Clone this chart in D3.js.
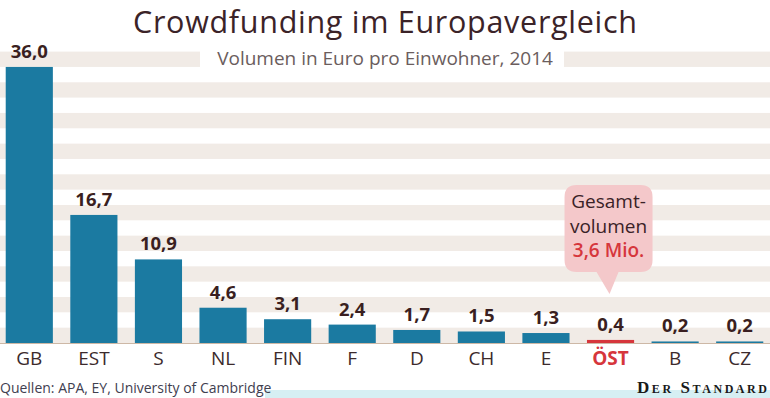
<!doctype html>
<html>
<head>
<meta charset="utf-8">
<style>
    body { margin: 0; background: #fff; }
    svg { display: block; font-family: "Open Sans", "Noto Sans", sans-serif; }
</style>
<script src="https://d3js.org/d3.v7.min.js"></script>
</head>
<body>
<svg width="770" height="398"></svg>
<script>
// data
var countries = ["GB", "EST", "S", "NL", "FIN", "F", "D", "CH", "E", "ÖST", "B", "CZ"];
var volumes = [36.0, 16.7, 10.9, 4.6, 3.1, 2.4, 1.7, 1.5, 1.3, 0.4, 0.2, 0.2];
var stripeStarts = [0, 4, 8, 12, 16, 20, 24, 28, 32, 36];
var stripeWidth = 2;
var highlight = "ÖST";

var svg = d3.select("svg"),
    baseline = 343;

var x = d3.scaleBand().domain(countries).range([-3, 772]).paddingInner(0.27).paddingOuter(0.135);
var y = d3.scaleLinear().domain([0, 38]).range([baseline, 51.6]);

var fmt = function(v) { return d3.format(".1f")(v).replace(".", ","); };

// stripes
svg.append("g").selectAll("rect")
    .data(stripeStarts)
    .enter().append("rect")
    .attr("x", 0)
    .attr("width", 770)
    .attr("y", function(d) { return y(d + stripeWidth); })
    .attr("height", function(d) { return y(d) - y(d + stripeWidth); })
    .attr("fill", "#f1ebe6");

// title
svg.append("text")
    .attr("x", 385).attr("y", 32.5)
    .attr("text-anchor", "middle")
    .attr("font-size", 30.5)
    .attr("textLength", 504)
    .attr("fill", "#3b2328")
    .text("Crowdfunding im Europavergleich");

svg.append("rect")
    .attr("x", 200).attr("y", 46).attr("width", 364).attr("height", 24)
    .attr("fill", "#fff");

svg.append("text")
    .attr("x", 385).attr("y", 65)
    .attr("text-anchor", "middle")
    .attr("font-size", 19)
    .attr("fill", "#6b5d5d")
    .text("Volumen in Euro pro Einwohner, 2014");

// baseline
svg.append("line")
    .attr("x1", 0).attr("x2", 770)
    .attr("y1", baseline + 0.5).attr("y2", baseline + 0.5)
    .attr("stroke", "#cdb8a6");

var data = countries.map(function(c, i) { return { c: c, v: volumes[i] }; });

var g = svg.append("g");

g.selectAll(".bar")
    .data(data)
    .enter().append("rect")
    .attr("class", "bar")
    .attr("x", function(d) { return x(d.c); })
    .attr("y", function(d) { return y(d.v); })
    .attr("width", x.bandwidth())
    .attr("height", function(d) { return baseline - y(d.v); })
    .attr("fill", function(d) { return d.c === highlight ? "#d6363c" : "#1b7aa1"; });

g.selectAll(".val")
    .data(data)
    .enter().append("text")
    .attr("class", "val")
    .attr("x", function(d) { return x(d.c) + x.bandwidth() / 2; })
    .attr("y", function(d) { return y(d.v) - 9; })
    .attr("text-anchor", "middle")
    .attr("font-size", 18.5)
    .attr("font-weight", "bold")
    .attr("fill", "#3a1f21")
    .text(function(d) { return fmt(d.v); });

svg.append("g")
    .attr("transform", "translate(0," + baseline + ")")
    .call(d3.axisBottom(x).tickSize(0).tickPadding(9))
    .call(function(a) {
        a.select(".domain").remove();
        a.selectAll("text")
            .attr("font-size", 19)
            .attr("font-family", "'Open Sans', sans-serif")
            .attr("fill", function(d) { return d === highlight ? "#d6363c" : "#3b2a2c"; })
            .attr("font-weight", function(d) { return d === highlight ? "bold" : "normal"; });
    });

// callout
var cx = x(highlight) + x.bandwidth() / 2;
var bx0 = cx - 46, bx1 = cx + 42, by0 = 185, by1 = 272, r = 12;
var tailY = y(0.4) - 46;
var p = d3.path();
p.moveTo(bx0 + r, by0);
p.lineTo(bx1 - r, by0);
p.quadraticCurveTo(bx1, by0, bx1, by0 + r);
p.lineTo(bx1, by1 - r);
p.quadraticCurveTo(bx1, by1, bx1 - r, by1);
p.lineTo(cx + 8, by1);
p.lineTo(cx - 1, tailY);
p.lineTo(cx - 14, by1);
p.lineTo(bx0 + r, by1);
p.quadraticCurveTo(bx0, by1, bx0, by1 - r);
p.lineTo(bx0, by0 + r);
p.quadraticCurveTo(bx0, by0, bx0 + r, by0);
p.closePath();
svg.append("path").attr("d", p.toString()).attr("fill", "#f4c8ca");

var callout = svg.append("text")
    .attr("text-anchor", "middle")
    .attr("font-size", 19);
callout.append("tspan").attr("x", cx - 2).attr("y", 208).attr("fill", "#3a2226").text("Gesamt-");
callout.append("tspan").attr("x", cx - 2).attr("y", 233).attr("fill", "#3a2226").text("volumen");
callout.append("tspan").attr("x", cx - 2).attr("y", 257).attr("fill", "#d6363c")
    .attr("font-weight", 600).text("3,6 Mio.");

// footer
svg.append("rect")
    .attr("x", 265).attr("y", 390).attr("width", 505).attr("height", 8)
    .attr("fill", "#d6eff3");

svg.append("text")
    .attr("x", 0).attr("y", 393)
    .attr("font-size", 14)
    .attr("fill", "#3f4050")
    .text("Quellen: APA, EY, University of Cambridge");

svg.append("text")
    .attr("x", 637).attr("y", 393)
    .attr("font-family", "'Liberation Serif', serif")
    .attr("font-size", 17)
    .attr("font-weight", "bold")
    .attr("fill", "#1a1a1a")
    .attr("textLength", 130)
    .attr("lengthAdjust", "spacing")
    .style("font-variant", "small-caps")
    .text("Der Standard");
</script>
</body>
</html>
